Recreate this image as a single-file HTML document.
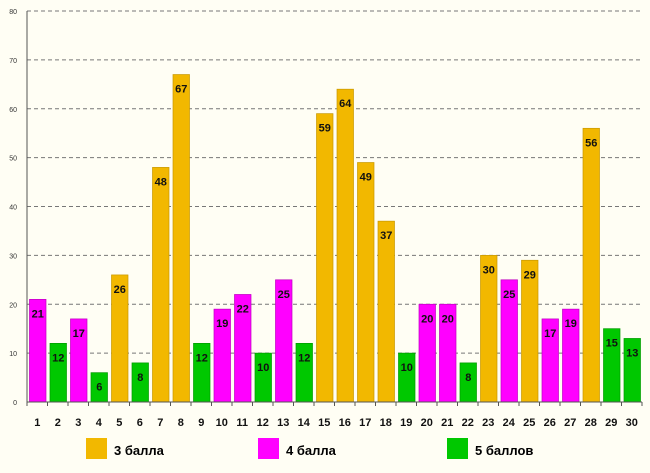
<!DOCTYPE html>
<html><head><meta charset="utf-8"><style>
body{margin:0;background:#fffef4;}
svg{display:block;font-family:"Liberation Sans","DejaVu Sans",sans-serif;}
</style></head><body>
<svg id="c" width="650" height="473">
<rect width="650" height="473" fill="#fffef4"/>
<g id="grid"></g><g id="bars"></g><g id="axes"></g>
<g>
 <rect x="86" y="438" width="21" height="21" fill="#f2b800"/>
 <text x="114" y="455" font-size="13" font-weight="bold">3 балла</text>
 <rect x="258" y="438" width="21" height="21" fill="#ff00ff"/>
 <text x="286" y="455" font-size="13" font-weight="bold">4 балла</text>
 <rect x="447" y="438" width="21" height="21" fill="#00c800"/>
 <text x="475" y="455" font-size="13" font-weight="bold">5 баллов</text>
</g>
</svg>
<script>
const categories=["1","2","3","4","5","6","7","8","9","10","11","12","13","14","15","16","17","18","19","20","21","22","23","24","25","26","27","28","29","30"];
const values=[21,12,17,6,26,8,48,67,12,19,22,10,25,12,59,64,49,37,10,20,20,8,30,25,29,17,19,56,15,13];
const grades=[4,5,4,5,3,5,3,3,5,4,4,5,4,5,3,3,3,3,5,4,4,5,3,4,3,4,4,3,5,5];
const yTicks=[0,10,20,30,40,50,60,70,80];
const colors={3:"#f2b800",4:"#ff00ff",5:"#00c800"};
const strokes={3:"#c89800",4:"#c000c0",5:"#009a00"};
const NS="http://www.w3.org/2000/svg";
const x0=27,x1=642,y0=402,y1=11,ymax=80;
const slot=(x1-x0)/categories.length;
const ys=v=>y0-(v/ymax)*(y0-y1);
const xs=i=>x0+i*slot;
function mk(t,a,p){const e=document.createElementNS(NS,t);for(const k in a)e.setAttribute(k,a[k]);p.appendChild(e);return e;}
const grid=document.getElementById('grid'),bars=document.getElementById('bars'),axes=document.getElementById('axes');
yTicks.forEach(t=>{
 if(t>0){const l=mk('line',{x1:x0,x2:x1,y1:ys(t),y2:ys(t),stroke:'#777','stroke-dasharray':'4,3','stroke-width':1},grid);
 
 }
 const tx=mk('text',{x:17,y:ys(t)+3,'font-size':7,'text-anchor':'end',fill:'#333'},axes);tx.textContent=t;
 
 
});
values.forEach((v,i)=>{
 const g=grades[i];
 const r=mk('rect',{x:xs(i)+2.5,y:ys(v),width:slot-4,height:y0-ys(v),fill:colors[g],stroke:strokes[g],'stroke-width':0.7},bars);
 
 
 const t=mk('text',{x:xs(i)+slot/2+0.5,y:ys(v)+18,'font-size':11,'font-weight':'bold','text-anchor':'middle',fill:'#111'},bars);t.textContent=v;
 
 
 const c=mk('text',{x:xs(i)+slot/2,y:426,'font-size':11,'font-weight':'bold','text-anchor':'middle',fill:'#111'},axes);c.textContent=categories[i];
 
 
 mk('line',{x1:xs(i),x2:xs(i),y1:y0,y2:y0+4,stroke:'#555'},axes);
});
mk('line',{x1:x1,x2:x1,y1:y0,y2:y0+4,stroke:'#555'},axes);
const ax=mk('line',{x1:x0,x2:x1,y1:y0,y2:y0,stroke:'#555'},axes);


const ay=mk('line',{x1:x0,x2:x0,y1:y1,y2:y0,stroke:'#555'},axes);


</script>
</body></html>
